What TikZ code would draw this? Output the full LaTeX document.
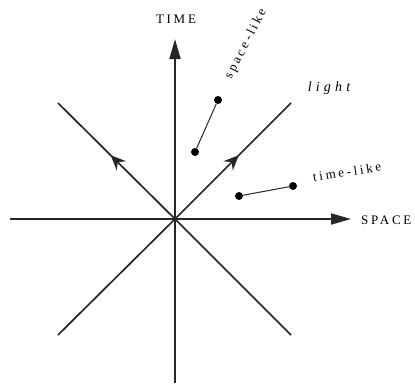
\documentclass[tikz,border=0pt]{standalone}
\usepackage{fontspec}
\setmainfont{Liberation Serif}
\usetikzlibrary{arrows.meta,decorations.markings}
\begin{document}
\begin{tikzpicture}[x=1pt,y=-1pt,
  axis/.style={line width=1.8pt,draw=black!85,-{Triangle[length=20pt,width=11pt]}},
  lightline/.style={line width=1.7pt,draw=black!85},
  midarrow/.style={postaction={decorate},decoration={markings,mark=at position 0.55 with {\arrow{Stealth[length=15pt,width=13pt,inset=5pt]}}}},
  seg/.style={line width=1pt,draw=black!85},
  dot/.style={circle,fill=black,inner sep=0pt,minimum size=8pt},
  lbl/.style={inner sep=1pt,font=\fontsize{13}{15}\selectfont\addfontfeature{LetterSpace=21}}]
\useasboundingbox (0,0) rectangle (415,383);
\coordinate (O) at (175,219);
\coordinate (L) at (10,219);
\coordinate (R) at (351,219);
\coordinate (B) at (175,383);
\coordinate (T) at (175,39);
\coordinate (UL) at (58,103);
\coordinate (UR) at (291,103);
\coordinate (LL) at (58,335);
\coordinate (LR) at (291,335);
\draw[axis] (L) -- (R);
\draw[axis] (B) -- (T);
\draw[lightline] (LL) -- (O);
\draw[lightline] (LR) -- (O);
\draw[lightline,midarrow] (O) -- (UL);
\draw[lightline,midarrow] (O) -- (UR);
\node[dot] (s1) at (218,100) {};
\node[dot] (s2) at (195,152) {};
\node[dot] (t1) at (239,196) {};
\node[dot] (t2) at (293,186) {};
\draw[seg] (s1) -- (s2);
\draw[seg] (t1) -- (t2);
\node[lbl] (time) at (176,19) {TIME};
\node[lbl,anchor=west] (space) at (360,220) {SPACE};
\node[inner sep=1pt,font=\fontsize{14}{16}\selectfont\itshape\addfontfeature{LetterSpace=30}] (light) at (329,88) {light};
\node[lbl,rotate=63] (sl) at (246,44) {space-like};
\node[lbl,rotate=9] (tl) at (347,172) {time-like};
\end{tikzpicture}
\end{document}
